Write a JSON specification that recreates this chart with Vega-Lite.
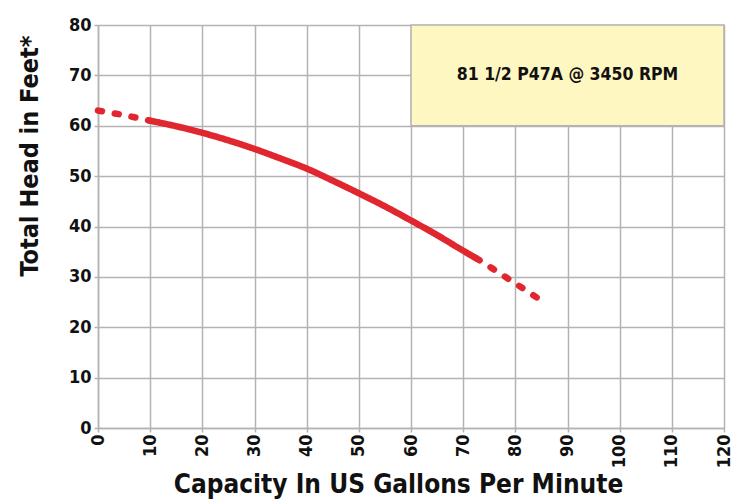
{
  "$schema": "https://vega.github.io/schema/vega-lite/v6.json",
  "width": 626,
  "height": 403,
  "autosize": {"type": "none"},
  "padding": {"left": 98, "top": 25, "right": 20, "bottom": 72},
  "background": "white",
  "config": {
    "view": {"stroke": null},
    "font": "DejaVu Sans Condensed",
    "axis": {
      "gridColor": "#b3b3b3",
      "gridWidth": 1.5,
      "domainColor": "#b3b3b3",
      "domainWidth": 1.5,
      "tickColor": "#b3b3b3",
      "tickWidth": 1.5,
      "tickSize": 4,
      "labelFont": "DejaVu Sans Condensed",
      "labelFontWeight": "bold",
      "labelColor": "#111111",
      "labelFontSize": 18,
      "titleFont": "DejaVu Sans Condensed",
      "titleFontWeight": "bold",
      "titleColor": "#111111"
    }
  },
  "layer": [
    {
      "data": {"values": [{"x": 60, "x2": 120, "y": 60, "y2": 80}]},
      "mark": {"type": "rect", "fill": "#fff7c2", "stroke": "#b3b3b3", "strokeWidth": 1.5},
      "encoding": {
        "x": {
          "field": "x", "type": "quantitative",
          "scale": {"domain": [0, 120], "nice": false},
          "axis": {
            "values": [0, 10, 20, 30, 40, 50, 60, 70, 80, 90, 100, 110, 120],
            "labelAngle": 270,
            "labelAlign": "right",
            "labelBaseline": "middle",
            "labelPadding": 2,
            "title": "Capacity In US Gallons Per Minute",
            "titleFontSize": 26,
            "titlePadding": 4,
            "titleX": 300
          }
        },
        "x2": {"field": "x2"},
        "y": {
          "field": "y", "type": "quantitative",
          "scale": {"domain": [0, 80], "nice": false},
          "axis": {
            "values": [0, 10, 20, 30, 40, 50, 60, 70, 80],
            "labelPadding": 3,
            "title": "Total Head in Feet*",
            "titleFontSize": 25,
            "titleAnchor": "end",
            "titleY": 10,
            "titlePadding": 26
          }
        },
        "y2": {"field": "y2"}
      }
    },
    {
      "data": {"values": [{"x": 90, "y": 70, "label": "81 1/2 P47A @ 3450 RPM"}]},
      "mark": {"type": "text", "fontSize": 17.5, "fontWeight": "bold", "color": "#111111", "font": "DejaVu Sans Condensed"},
      "encoding": {
        "x": {"field": "x", "type": "quantitative"},
        "y": {"field": "y", "type": "quantitative"},
        "text": {"field": "label"}
      }
    },
    {
      "data": {"values": [
        {"gpm": 0, "head": 63.0, "part": "a", "style": "dashed"},
        {"gpm": 5, "head": 62.1, "part": "a", "style": "dashed"},
        {"gpm": 10, "head": 61.0, "part": "a", "style": "dashed"},
        {"gpm": 10, "head": 61.0, "part": "b", "style": "solid"},
        {"gpm": 15, "head": 59.9, "part": "b", "style": "solid"},
        {"gpm": 20, "head": 58.6, "part": "b", "style": "solid"},
        {"gpm": 25, "head": 57.1, "part": "b", "style": "solid"},
        {"gpm": 30, "head": 55.4, "part": "b", "style": "solid"},
        {"gpm": 35, "head": 53.5, "part": "b", "style": "solid"},
        {"gpm": 40, "head": 51.5, "part": "b", "style": "solid"},
        {"gpm": 45, "head": 49.1, "part": "b", "style": "solid"},
        {"gpm": 50, "head": 46.6, "part": "b", "style": "solid"},
        {"gpm": 55, "head": 44.0, "part": "b", "style": "solid"},
        {"gpm": 60, "head": 41.2, "part": "b", "style": "solid"},
        {"gpm": 65, "head": 38.3, "part": "b", "style": "solid"},
        {"gpm": 70, "head": 35.2, "part": "b", "style": "solid"},
        {"gpm": 72.5, "head": 33.7, "part": "b", "style": "solid"},
        {"gpm": 72.5, "head": 33.7, "part": "c", "style": "dashed"},
        {"gpm": 76, "head": 31.4, "part": "c", "style": "dashed"},
        {"gpm": 80, "head": 28.7, "part": "c", "style": "dashed"},
        {"gpm": 85, "head": 25.3, "part": "c", "style": "dashed"}
      ]},
      "mark": {"type": "line", "color": "#e0262f", "strokeWidth": 6.5, "strokeCap": "round", "interpolate": "monotone"},
      "encoding": {
        "x": {"field": "gpm", "type": "quantitative"},
        "y": {"field": "head", "type": "quantitative"},
        "detail": {"field": "part"},
        "strokeDash": {
          "field": "style", "type": "nominal",
          "scale": {"domain": ["solid", "dashed"], "range": [[1, 0], [4, 13]]},
          "legend": null
        }
      }
    }
  ]
}
